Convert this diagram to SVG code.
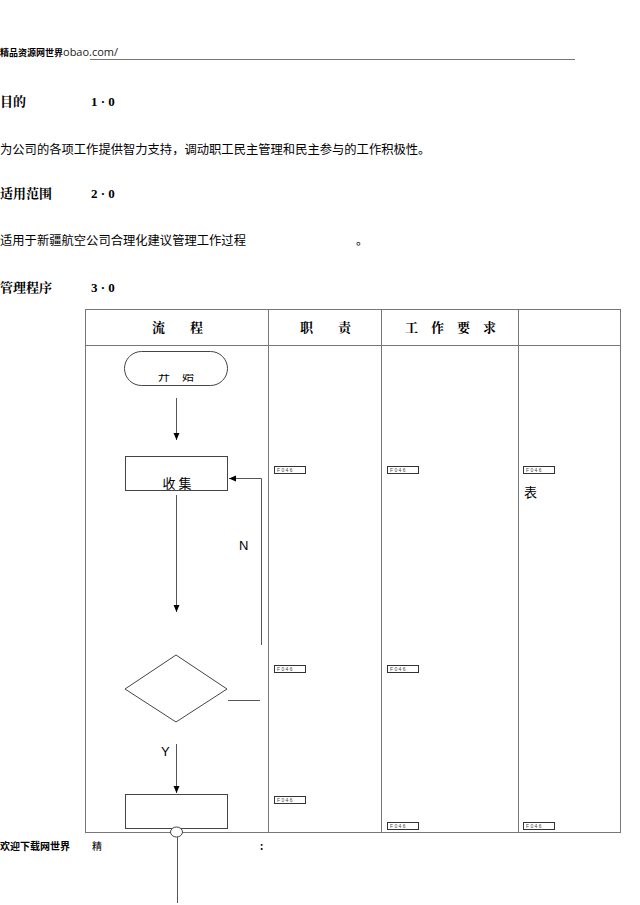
<svg xmlns="http://www.w3.org/2000/svg" width="640" height="905" viewBox="0 0 640 905">
<style>
.cjk{font-family:"Noto Sans CJK SC","Noto Sans",sans-serif;fill:#000}
.h{font-family:"Noto Serif CJK SC","Noto Sans CJK SC",serif;font-weight:bold;font-size:13px;fill:#000}
.num{font-family:"Liberation Serif",serif;font-weight:bold;font-size:13px;fill:#000}
.ln{stroke:#555;stroke-width:1;fill:none}
.tb{stroke:#777;stroke-width:1;fill:none}
.shape{stroke:#444;stroke-width:1;fill:#fff}
.lab{font-family:"Liberation Sans",Arial,sans-serif;font-size:13px;fill:#000}
.tag rect{fill:#fff;stroke:#333;stroke-width:1}
.tag text{font-family:"Liberation Sans",sans-serif;font-size:5px;fill:#444}
</style>
<defs>
<marker id="ah" markerWidth="8" markerHeight="8" refX="7" refY="4" orient="auto" markerUnits="userSpaceOnUse">
<path d="M0,1 L7,4 L0,7 Z" fill="#000"/>
</marker>
<clipPath id="clipStart"><rect x="124" y="374" width="104" height="12"/></clipPath>
<g id="tagdef" class="tag"><rect x="0.5" y="0.5" width="31" height="7"/><text x="3" y="6">F 0 4 6</text></g>
</defs>
<rect width="640" height="905" fill="#fff"/>

<g id="page-header">
<text x="0" y="56" font-size="11"><tspan class="cjk" font-weight="bold" font-size="9">精品资源网世界</tspan><tspan font-family="Open Sans,sans-serif" fill="#222">obao.com/</tspan></text>
<line x1="90" y1="59.5" x2="575" y2="59.5" stroke="#777" stroke-width="1"/>
</g>

<g id="section1">
<text x="0" y="106" class="h">目的</text>
<text x="91" y="106" class="num">1 · 0</text>
<text x="0" y="154" class="cjk" font-size="12.3">为公司的各项工作提供智力支持，调动职工民主管理和民主参与的工作积极性。</text>
</g>
<g id="section2">
<text x="0" y="198" class="h">适用范围</text>
<text x="91" y="198" class="num">2 · 0</text>
<text x="0" y="245" class="cjk" font-size="12.3">适用于新疆航空公司合理化建议管理工作过程</text>
<text x="356" y="245" class="cjk" font-size="12">。</text>
</g>
<g id="section3">
<text x="0" y="292" class="h">管理程序</text>
<text x="91" y="292" class="num">3 · 0</text>
</g>

<g id="table">
<rect x="85.5" y="309.5" width="535" height="523" class="tb"/>
<line x1="85.5" y1="345.5" x2="620.5" y2="345.5" class="tb"/>
<line x1="268.5" y1="309.5" x2="268.5" y2="832.5" class="tb"/>
<line x1="381.5" y1="309.5" x2="381.5" y2="832.5" class="tb"/>
<line x1="518.5" y1="309.5" x2="518.5" y2="832.5" class="tb"/>
<text x="152" y="332" class="h">流</text><text x="190" y="332" class="h">程</text>
<text x="300" y="332" class="h">职</text><text x="338" y="332" class="h">责</text>
<text x="405" y="332" class="h" letter-spacing="13">工作要求</text>
</g>

<g id="node-start">
<rect x="124.5" y="351.5" width="103" height="34" rx="17" class="shape"/>
<text x="176" y="381" class="cjk" font-size="12" text-anchor="middle" clip-path="url(#clipStart)">开　始</text>
</g>
<g id="node-collect">
<rect x="125.5" y="456.5" width="102" height="34" class="shape"/>
<text x="177" y="488" class="cjk" font-size="13" text-anchor="middle">收 集</text>
</g>
<g id="node-decision">
<polygon points="125,689 176,655 227,689 176,722" class="shape"/>
</g>
<g id="node-process">
<rect x="125.5" y="794.5" width="102" height="34" class="shape"/>
</g>
<g id="node-connector">
<ellipse cx="176.5" cy="832" rx="6" ry="5" class="shape"/>
</g>

<g id="connectors">
<line x1="176.5" y1="398" x2="176.5" y2="440" class="ln" stroke="#000" marker-end="url(#ah)"/>
<line x1="176.5" y1="495" x2="176.5" y2="612" class="ln" marker-end="url(#ah)"/>
<polyline points="261.5,645 261.5,478.5 229,478.5" class="ln" marker-end="url(#ah)"/>
<line x1="228" y1="700.5" x2="260" y2="700.5" class="ln"/>
<line x1="176.5" y1="744" x2="176.5" y2="793" class="ln" marker-end="url(#ah)"/>
<line x1="177.5" y1="837" x2="177.5" y2="903" class="ln"/>
<text x="239" y="550" class="lab">N</text>
<text x="161" y="756" class="lab">Y</text>
</g>

<g id="tags">
<use href="#tagdef" x="274" y="466"/>
<use href="#tagdef" x="387" y="466"/>
<use href="#tagdef" x="523" y="466"/>
<use href="#tagdef" x="274" y="665"/>
<use href="#tagdef" x="387" y="665"/>
<use href="#tagdef" x="274" y="796"/>
<use href="#tagdef" x="387" y="822"/>
<use href="#tagdef" x="523" y="822"/>
<text x="524" y="497" class="cjk" font-size="13">表</text>
</g>

<g id="page-footer">
<text x="0" y="850" class="cjk" font-size="10" font-weight="bold">欢迎下载网世界</text>
<text x="92" y="850" class="cjk" font-size="10">精</text>
<text x="260" y="850" class="cjk" font-size="10" font-weight="bold">:</text>
</g>
</svg>
